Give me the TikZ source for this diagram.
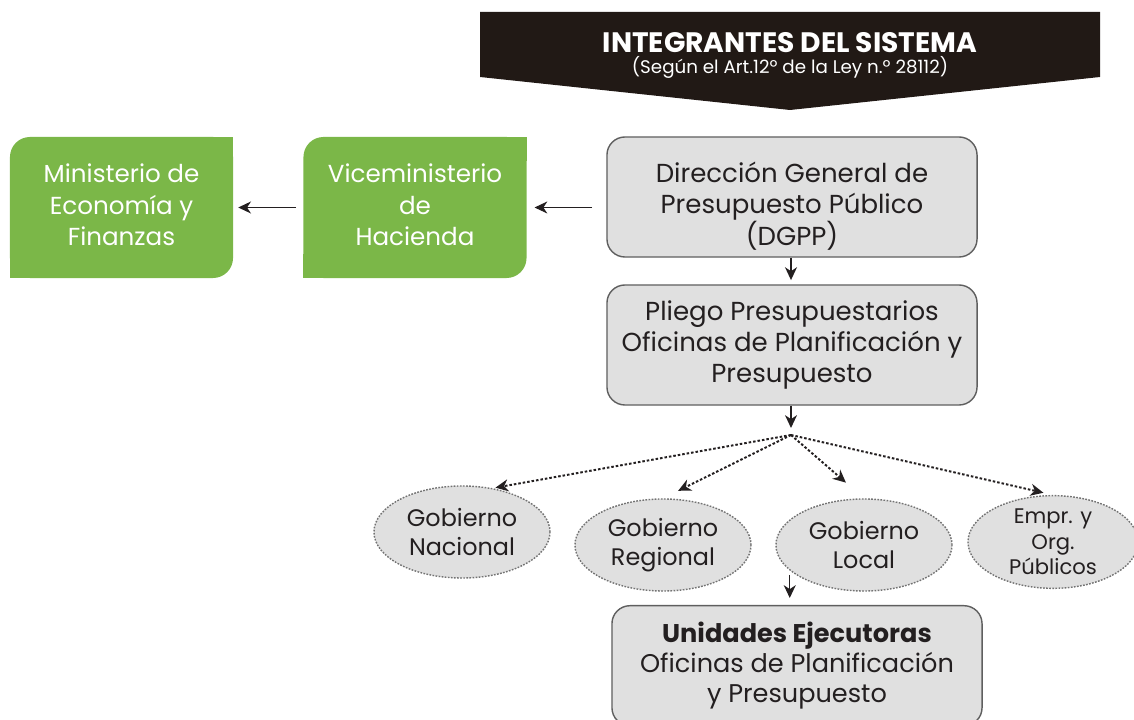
\documentclass[tikz,border=0pt]{standalone}
\usepackage{fontspec}
\setmainfont{Poppins}
\usepackage{tikz}
\usetikzlibrary{shapes.geometric,arrows.meta,positioning,calc}
\definecolor{leafgreen}{RGB}{123,183,72}
\definecolor{boxfill}{RGB}{224,224,224}
\definecolor{boxline}{RGB}{95,95,95}
\definecolor{dotgray}{RGB}{115,115,115}
\definecolor{inkdark}{RGB}{35,31,32}
\definecolor{bannerdark}{RGB}{33,25,21}

\begin{document}
\begin{tikzpicture}[x=0.025cm,y=-0.025cm]
  \tikzstyle{grisbox}=[rectangle,draw=boxline,fill=boxfill,line width=1pt,rounded corners=0.45cm,minimum width=9.25cm,minimum height=3cm,align=center,text=inkdark,font=\fontsize{18.5}{22}\selectfont]
  \tikzstyle{hoja}=[rectangle,fill=leafgreen,rounded corners=0.5cm,minimum width=5.575cm,minimum height=3.525cm,align=center,text=white,font=\fontsize{17.5}{22.5}\selectfont]
  \tikzstyle{nivel}=[ellipse,draw=dotgray,fill=boxfill,line width=1pt,dash pattern=on 1.2pt off 1pt,minimum width=4.4cm,minimum height=2.3cm,inner sep=0pt,align=center,text=inkdark,font=\fontsize{17}{20.5}\selectfont]
  \tikzstyle{flecha}=[draw=inkdark,line width=0.9pt,-{Stealth[length=3.2mm,width=3mm,inset=1mm]}]
  \tikzstyle{punteo}=[flecha,line width=1.4pt,dash pattern=on 1.8pt off 1.4pt]
  \useasboundingbox (0,0) rectangle (1134,720);
  % banner
  \fill[bannerdark] (480,12) -- (1100,12) -- (1100,77) -- (790,110) -- (480,77) -- cycle;
  \node[text=white,font=\fontsize{20}{22}\selectfont\bfseries,inner sep=0pt] (titulo) at (790,43) {INTEGRANTES DEL SISTEMA};
  \node[text=white,font=\fontsize{13}{14}\selectfont,inner sep=0pt,below=2pt of titulo] (ley) {(Según el Art.12º de la Ley n.º 28112)};
  % ministerio
  \node[hoja] (mef) at (121.5,207.5) {Ministerio de\\Economía y\\Finanzas\rule[-4pt]{0pt}{4pt}};
  \node[hoja] (vmh) at (415,207.5) {Viceministerio\\de\\Hacienda\rule[-4pt]{0pt}{4pt}};
  \fill[leafgreen] (mef.north east) rectangle ++(-0.6cm,-0.6cm);
  \fill[leafgreen] (mef.south west) rectangle ++(0.6cm,0.6cm);
  \fill[leafgreen] (vmh.north east) rectangle ++(-0.6cm,-0.6cm);
  \fill[leafgreen] (vmh.south west) rectangle ++(0.6cm,0.6cm);
  % cadena
  \node[grisbox] (dgpp) at (792,197) {\rule{0pt}{28pt}Dirección General de\\Presupuesto Público\\(DGPP)};
  \node[grisbox] (pliego) at (792,345) {Pliego Presupuestarios\\Oficinas de Planificación y\\Presupuesto};
  \coordinate (hub) at (791,435);
  \node[nivel] (nac) at (462,532) {Gobierno\\Nacional};
  \node[nivel] (reg) at (663,545) {Gobierno\\Regional};
  \node[nivel] (loc) at (864,545) {Gobierno\\Local};
  \node[nivel,minimum width=4.25cm,minimum height=2.15cm,font=\fontsize{15}{18}\selectfont] (emp) at (1053,542) {Empr. y\\Org.\\Públicos};
  \node[grisbox,anchor=north,minimum height=3cm,font=\fontsize{18.2}{21.3}\selectfont] (ue) at (797,605) {\textbf{Unidades Ejecutoras}\\Oficinas de Planificación\\y Presupuesto};
  % flechas
  \draw[flecha,shorten <=10pt,shorten >=5.5pt] (vmh.east -| dgpp.west) -- (vmh.east);
  \draw[flecha,shorten <=5pt,shorten >=3.5pt] (mef.east -| vmh.west) -- (mef.east);
  \draw[flecha,shorten >=3pt] (dgpp.south -| hub) -- (pliego.north -| hub);
  \draw[flecha,shorten >=5pt] (pliego.south -| hub) -- (hub);
  \draw[punteo,shorten >=2pt] (hub) -- (nac.55);
  \draw[punteo,shorten >=12pt] (hub) -- (reg.north);
  \draw[punteo,shorten >=17pt] (hub) -- (loc.north);
  \draw[punteo,shorten >=7pt] (hub) -- (emp.north);
  \draw[flecha,shorten <=3pt,shorten >=5pt] (loc.199) -- (loc.199 |- ue.north);
\end{tikzpicture}
\end{document}
